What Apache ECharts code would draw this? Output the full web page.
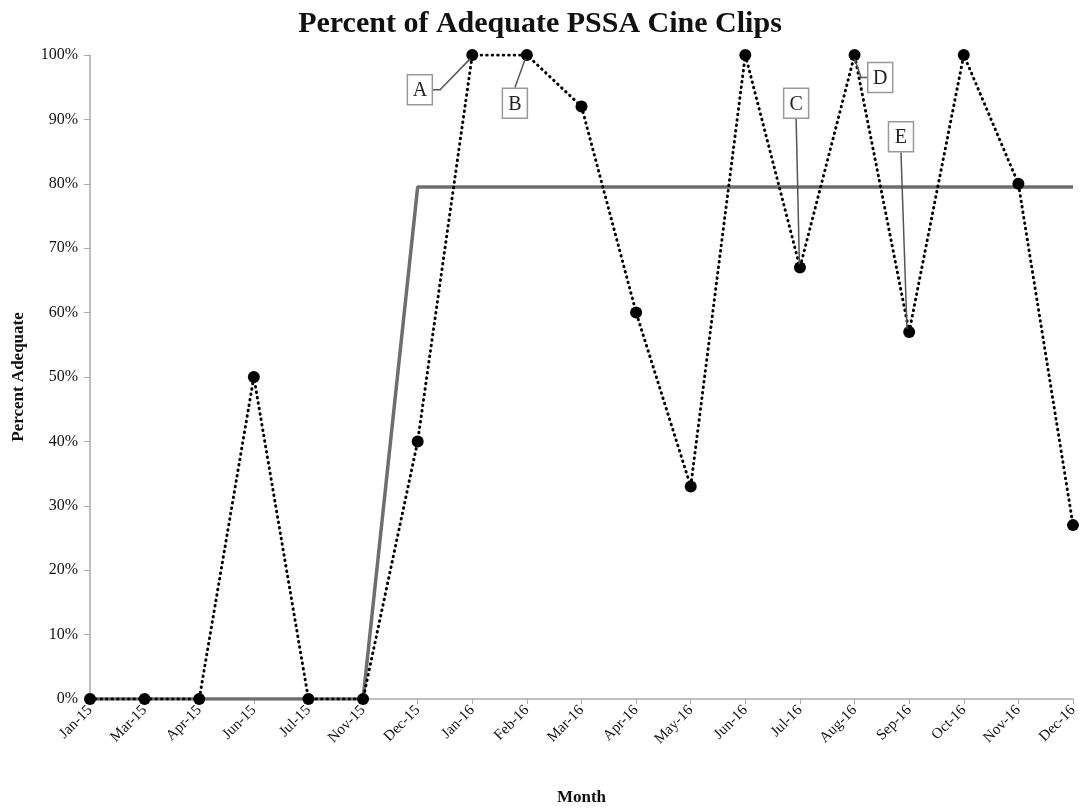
<!DOCTYPE html>
<html>
<head>
<meta charset="utf-8">
<script src="https://cdn.jsdelivr.net/npm/echarts@6/dist/echarts.min.js"></script>
<style>html,body{margin:0;padding:0;background:#fff;}#c{width:1080px;height:810px;}</style>
</head>
<body>
<div id="c"></div>
<script>
const months = ['Jan-15','Mar-15','Apr-15','Jun-15','Jul-15','Nov-15','Dec-15','Jan-16','Feb-16','Mar-16','Apr-16','May-16','Jun-16','Jul-16','Aug-16','Sep-16','Oct-16','Nov-16','Dec-16'];
const percentAdequate = [0,0,0,50,0,0,40,100,100,92,60,33,100,67,100,57,100,80,27];
const medianLine = [0,0,0,0,0,0,79.5,79.5,79.5,79.5,79.5,79.5,79.5,79.5,79.5,79.5,79.5,79.5,79.5];
// annotation: letter, box centre [categoryIndex, value], leader path in data space
const annotLetters = ['A','B','C','D','E'];
const annotBoxes = [[6.04,94.6],[7.78,92.5],[12.93,92.5],[14.47,96.5],[14.85,87.3]];
const annotPaths = [
  [[6.27,94.6],[6.41,94.6],[6.96,99.4]],
  [[7.78,94.9],[7.97,99.4]],
  [[12.93,90.2],[12.99,67.5]],
  [[14.25,96.5],[14.12,96.5],[14.0,99.4]],
  [[14.85,84.9],[14.96,57.5]]
];

const chart = echarts.init(document.getElementById('c'));
const serif = '"Liberation Serif","DejaVu Serif",serif';
chart.setOption({
  animation: false,
  title: {
    text: 'Percent of Adequate PSSA Cine Clips',
    left: 'center', top: 4,
    textStyle: {fontFamily: serif, fontSize: 30, fontWeight: 'bold', color: '#111'}
  },
  grid: {left: 90, right: 7, top: 55, bottom: 111, containLabel: false, outerBoundsMode: 'none'},
  xAxis: [{
    type: 'category', data: months, boundaryGap: false,
    name: 'Month', nameLocation: 'middle', nameGap: 90,
    nameTextStyle: {fontFamily: serif, fontSize: 17, fontWeight: 'bold', color: '#111'},
    axisLine: {lineStyle: {color: '#aaa', width: 1.5}},
    axisTick: {show: true, alignWithLabel: true, length: 5, lineStyle: {color: '#aaa'}},
    axisLabel: {rotate: 45, interval: 0, fontFamily: serif, fontSize: 15, color: '#111', margin: 9},
    splitLine: {show: false}
  }, {
    type: 'value', min: 0, max: 18, show: false
  }],
  yAxis: {
    type: 'value', min: 0, max: 100, interval: 10,
    name: 'Percent Adequate', nameLocation: 'middle', nameGap: 63, nameRotate: 90,
    nameTextStyle: {fontFamily: serif, fontSize: 17, fontWeight: 'bold', color: '#111'},
    axisLine: {show: true, lineStyle: {color: '#aaa', width: 1.5}},
    axisTick: {show: true, length: 6, lineStyle: {color: '#aaa'}},
    axisLabel: {formatter: v => v + '%', fontFamily: serif, fontSize: 16, color: '#111', margin: 12},
    splitLine: {show: false}
  },
  series: [
    {
      type: 'line', data: medianLine, symbol: 'none', z: 2,
      lineStyle: {color: '#6e6e6e', width: 3.5}
    },
    {
      type: 'line', data: percentAdequate, symbol: 'circle', symbolSize: 12, z: 3,
      itemStyle: {color: '#000'},
      lineStyle: {color: '#000', width: 3, type: [0.5, 5], cap: 'round'}
    },
    {
      type: 'custom', xAxisIndex: 1, yAxisIndex: 0, z: 4, clip: false,
      data: annotLetters.map((l, i) => [i]),
      renderItem: function (params, api) {
        const i = api.value(0);
        const c = api.coord(annotBoxes[i]);
        const pts = annotPaths[i].map(p => api.coord(p));
        const w = 25, h = 30;
        return {
          type: 'group',
          children: [
            {type: 'polyline', shape: {points: pts}, style: {stroke: '#555', lineWidth: 1.5, fill: null}},
            {type: 'rect', shape: {x: c[0] - w / 2, y: c[1] - h / 2, width: w, height: h},
             style: {fill: '#fff', stroke: '#999', lineWidth: 1.5}},
            {type: 'text', x: c[0], y: c[1] + 1,
             style: {text: annotLetters[i], fontFamily: serif, fontSize: 20, fill: '#222', align: 'center', verticalAlign: 'middle'}}
          ]
        };
      }
    }
  ]
});
</script>
</body>
</html>
